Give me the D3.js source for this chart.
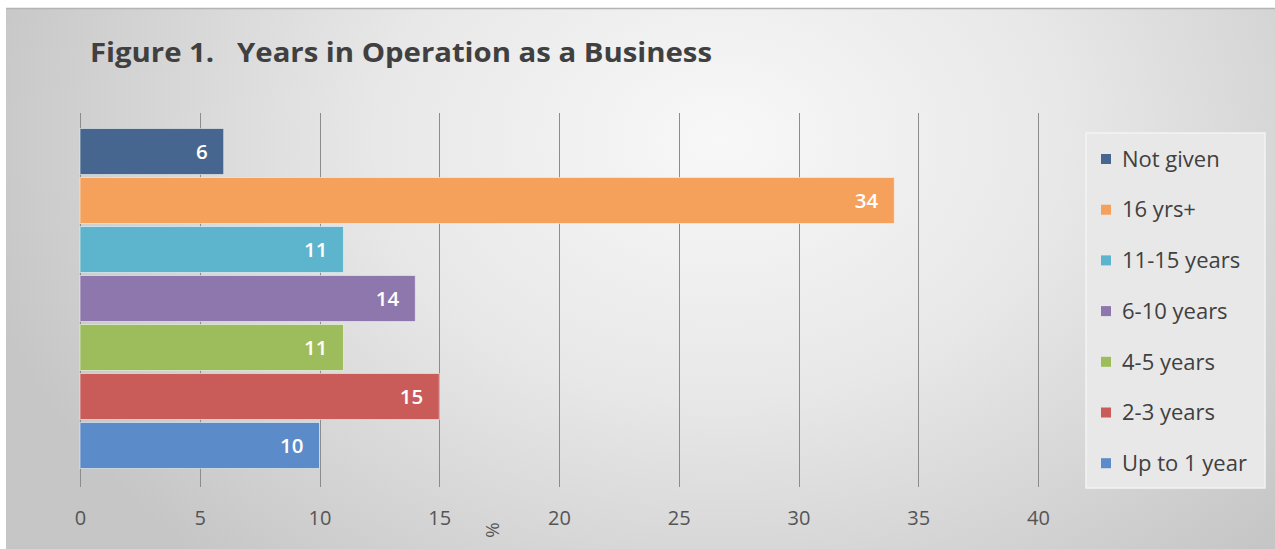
<!DOCTYPE html>
<html>
<head>
<meta charset="utf-8">
<script src="https://cdn.jsdelivr.net/npm/d3@7"></script>
<style>
  html, body { margin: 0; padding: 0; background: #ffffff; }
  svg { display: block; font-family: "Open Sans", "Liberation Sans", sans-serif; }
</style>
</head>
<body>
<svg id="chart" width="1275" height="549"></svg>
<script>
// Survey: years in operation as a business (% of respondents)
const categories = ["Not given", "16 yrs+", "11-15 years", "6-10 years", "4-5 years", "2-3 years", "Up to 1 year"];
const values = [6, 34, 11, 14, 11, 15, 10];
const colors = ["#46668f", "#f6a15b", "#5cb5cc", "#8e77ad", "#9dbd5c", "#c95b58", "#5b8bc9"];
const xTicks = [0, 5, 10, 15, 20, 25, 30, 35, 40];
const titleText = "Figure 1.   Years in Operation as a Business";
const axisUnit = "%";

const svg = d3.select("#chart");
const W = 1275, H = 549;

// Card background: soft radial grey wash
const defs = svg.append("defs");
const grad = defs.append("radialGradient")
  .attr("id", "bg").attr("gradientUnits", "userSpaceOnUse")
  .attr("cx", 720).attr("cy", 140).attr("r", 760)
  .attr("gradientTransform", "translate(720,140) scale(1,0.75) translate(-720,-140)");
grad.append("stop").attr("offset", "0").attr("stop-color", "#f8f8f8");
grad.append("stop").attr("offset", "0.45").attr("stop-color", "#e8e8e8");
grad.append("stop").attr("offset", "1").attr("stop-color", "#c6c6c6");

svg.append("rect").attr("x", 6).attr("y", 8).attr("width", W - 6).attr("height", H - 8)
  .attr("fill", "url(#bg)");
svg.append("line").attr("x1", 6).attr("x2", W).attr("y1", 8.5).attr("y2", 8.5)
  .attr("stroke", "#b4b4b4").attr("stroke-width", 1.5);

// Title
svg.append("text")
  .attr("x", 90).attr("y", 62)
  .attr("font-size", 26.5).attr("font-weight", 700).attr("fill", "#404040")
  .attr("textLength", 622).attr("lengthAdjust", "spacingAndGlyphs")
  .attr("xml:space", "preserve")
  .text(titleText);

// Scales
const x = d3.scaleLinear().domain([0, 40]).range([80, 1038]);
const y = d3.scaleBand().domain(categories).range([127, 470]).paddingInner(0.06).paddingOuter(0.03);

// Vertical gridlines with tick marks running below the bars
const gridTop = 113, gridBottom = 487;
svg.append("g").selectAll("line").data(xTicks).join("line")
  .attr("x1", d => Math.round(x(d)) + 0.5).attr("x2", d => Math.round(x(d)) + 0.5)
  .attr("y1", gridTop).attr("y2", gridBottom)
  .attr("stroke", "#8c8c8c").attr("stroke-width", 1);

// Bars
svg.append("g").selectAll("rect").data(categories).join("rect")
  .attr("x", x(0)).attr("y", d => y(d))
  .attr("width", (d, i) => x(values[i]) - x(0))
  .attr("height", y.bandwidth())
  .attr("fill", (d, i) => colors[i])
  .attr("stroke", "#f4f4f4").attr("stroke-opacity", 0.6).attr("stroke-width", 1);

// Value labels inside bar ends
svg.append("g").selectAll("text").data(categories).join("text")
  .attr("x", (d, i) => x(values[i]) - 16)
  .attr("y", d => y(d) + y.bandwidth() / 2)
  .attr("dy", "0.36em")
  .attr("text-anchor", "end")
  .attr("font-size", 20.5).attr("font-weight", 600).attr("fill", "#ffffff")
  .text((d, i) => values[i]);

// X axis labels
const axis = d3.axisBottom(x).tickValues(xTicks).tickSize(0).tickPadding(0);
const gAxis = svg.append("g").attr("transform", "translate(0,511)").call(axis);
gAxis.select(".domain").remove();
gAxis.selectAll("text")
  .attr("font-family", "\"Open Sans\", sans-serif")
  .attr("font-size", 20).attr("fill", "#555555").attr("dy", "0.71em");

// Axis unit, turned on its side
svg.append("text")
  .attr("transform", "translate(493,530) rotate(90)")
  .attr("text-anchor", "middle").attr("dy", "0.35em")
  .attr("font-size", 19).attr("fill", "#555555")
  .text(axisUnit);

// Legend
const legend = svg.append("g");
legend.append("rect").attr("x", 1086).attr("y", 133).attr("width", 179).attr("height", 355)
  .attr("fill", "#e8e8e8").attr("stroke", "#f3f3f3").attr("stroke-width", 1.5);
const lg = legend.selectAll("g.item").data(categories).join("g").attr("class", "item")
  .attr("transform", (d, i) => `translate(1101, ${159 + i * 50.7})`);
lg.append("rect").attr("x", 0).attr("y", -5).attr("width", 10).attr("height", 10)
  .attr("fill", (d, i) => colors[i]);
lg.append("text").attr("x", 21).attr("dy", "0.35em")
  .attr("font-size", 22).attr("fill", "#404040")
  .text(d => d);
</script>
</body>
</html>
